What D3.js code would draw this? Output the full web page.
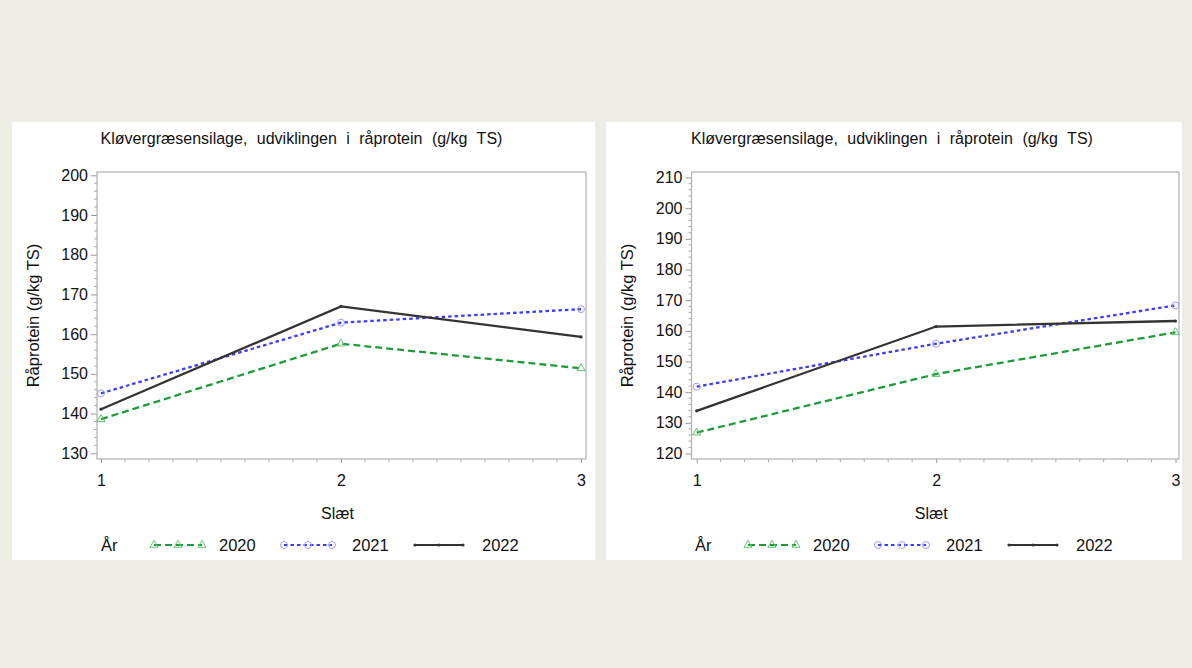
<!DOCTYPE html>
<html>
<head>
<meta charset="utf-8">
<script src="https://cdn.jsdelivr.net/npm/d3@7"></script>
<style>
  html, body { margin: 0; padding: 0; background: #ecebe4; }
  svg { display: block; }
  text { font-family: "Liberation Sans", Arial, sans-serif; fill: #111; }
</style>
</head>
<body>
<svg id="chart" width="1192" height="668"></svg>
<script>
// ---- Data ----
const slaet = [1, 2, 3];
const years = ["2020", "2021", "2022"];
const titleText = "Kløvergræsensilage, udviklingen i råprotein (g/kg TS)";
const yLabel = "Råprotein (g/kg TS)";
const xLabel = "Slæt";
const legendTitle = "År";

// Left panel
const left2020 = [138.6, 157.6, 151.4];
const left2021 = [145.1, 162.9, 166.3];
const left2022 = [141.1, 167.0, 159.3];
const leftYTicks = [130, 140, 150, 160, 170, 180, 190, 200];

// Right panel
const right2020 = [126.8, 145.9, 159.5];
const right2021 = [141.8, 155.8, 168.3];
const right2022 = [133.9, 161.4, 163.2];
const rightYTicks = [120, 130, 140, 150, 160, 170, 180, 190, 200, 210];

const xTicks = [1, 2, 3];

// ---- Styles ----
const styles = {
  "2020": { color: "#1f9a3a", marker: "#5fc46f", dash: "7,4", symbol: "triangle" },
  "2021": { color: "#3c3cff", marker: "#9c9cff", dash: "3.5,3", symbol: "circle" },
  "2022": { color: "#333333", marker: "#333333", dash: null, symbol: "dot" }
};

const svg = d3.select("#chart");

const panels = [
  { x0: 12, x1: 595, series: [left2020, left2021, left2022], yTicks: leftYTicks,
    frame: { l: 97, r: 586, t: 172, b: 459 }, xRange: [101, 581],
    yDomainPx: { hi: 200, hiY: 175.3, lo: 130, loY: 453.3 } },
  { x0: 606, x1: 1182, series: [right2020, right2021, right2022], yTicks: rightYTicks,
    frame: { l: 691.5, r: 1179, t: 172, b: 459 }, xRange: [696.7, 1175.5],
    yDomainPx: { hi: 210, hiY: 177.5, lo: 120, loY: 453.5 } }
];

function drawMarker(g, sym, cx, cy, st) {
  if (sym === "triangle") {
    g.append("path")
      .attr("d", d3.symbol().type(d3.symbolTriangle).size(28)())
      .attr("transform", `translate(${cx},${cy})`)
      .attr("fill", "none").attr("stroke", st.marker).attr("stroke-width", 1);
  } else if (sym === "circle") {
    g.append("circle").attr("cx", cx).attr("cy", cy).attr("r", 3.5)
      .attr("fill", "none").attr("stroke", st.marker).attr("stroke-width", 1);
  } else {
    g.append("circle").attr("cx", cx).attr("cy", cy).attr("r", 1.6)
      .attr("fill", st.marker);
  }
}

panels.forEach(p => {
  const g = svg.append("g");
  // white panel
  g.append("rect").attr("x", p.x0).attr("y", 122).attr("width", p.x1 - p.x0).attr("height", 438)
    .attr("fill", "#ffffff");

  const f = p.frame;
  const x = d3.scaleLinear().domain([1, 3]).range(p.xRange);
  const yd = p.yDomainPx;
  const y = d3.scaleLinear().domain([yd.lo, yd.hi]).range([yd.loY, yd.hiY]);

  // title
  g.append("text").attr("x", (p.x0 + p.x1) / 2 - 2).attr("y", 144)
    .attr("text-anchor", "middle").attr("font-size", 16).attr("word-spacing", 5)
    .text(titleText);

  // Y axis (major)
  const yAxis = d3.axisLeft(y).tickValues(p.yTicks).tickSize(6).tickPadding(3).tickFormat(d3.format("d"));
  const yg = g.append("g").attr("transform", `translate(${f.l},0)`).call(yAxis);
  yg.select(".domain").remove();
  yg.selectAll(".tick line").attr("stroke", "#999");
  yg.selectAll(".tick text").attr("font-size", 16).attr("font-family", "Liberation Sans, Arial, sans-serif").attr("fill", "#111");

  // Y minor ticks
  const yMin = d3.range(p.yTicks[0] - 4, p.yTicks[p.yTicks.length - 1] + 2.01, 2)
    .filter(v => y(v) >= f.t && y(v) <= f.b && !p.yTicks.includes(v));
  g.append("g").selectAll("line").data(yMin).join("line")
    .attr("x1", f.l - 3).attr("x2", f.l).attr("y1", d => y(d)).attr("y2", d => y(d))
    .attr("stroke", "#aaa").attr("stroke-width", 1);

  // X axis
  const xAxis = d3.axisBottom(x).tickValues(xTicks).tickSize(4).tickPadding(12).tickFormat(d3.format("d"));
  const xg = g.append("g").attr("transform", `translate(0,${f.b})`).call(xAxis);
  xg.select(".domain").remove();
  xg.selectAll(".tick line").attr("stroke", "#999");
  xg.selectAll(".tick text").attr("font-size", 16).attr("font-family", "Liberation Sans, Arial, sans-serif").attr("fill", "#111");

  const xMin = d3.range(1.1, 2.95, 0.1).filter(v => Math.abs(v - 2) > 0.01);
  g.append("g").selectAll("line").data(xMin).join("line")
    .attr("x1", d => x(d)).attr("x2", d => x(d)).attr("y1", f.b).attr("y2", f.b + 3)
    .attr("stroke", "#aaa").attr("stroke-width", 1);

  // frame
  g.append("rect").attr("x", f.l).attr("y", f.t).attr("width", f.r - f.l).attr("height", f.b - f.t)
    .attr("fill", "none").attr("stroke", "#b0b0b0").attr("stroke-width", 1.2);

  // axis labels
  g.append("text").attr("x", (f.l + f.r) / 2 - 4).attr("y", 519)
    .attr("text-anchor", "middle").attr("font-size", 16).text(xLabel);
  g.append("text")
    .attr("transform", `translate(${p.x0 + 27},${(f.t + f.b) / 2}) rotate(-90)`)
    .attr("text-anchor", "middle").attr("font-size", 16.5).text(yLabel);

  // lines
  const line = d3.line().x((d, i) => x(slaet[i])).y(d => y(d));
  p.series.forEach((vals, si) => {
    const st = styles[years[si]];
    g.append("path").datum(vals).attr("d", line)
      .attr("fill", "none").attr("stroke", st.color).attr("stroke-width", 2.3)
      .attr("stroke-dasharray", st.dash);
    vals.forEach((v, i) => drawMarker(g, st.symbol, x(slaet[i]), y(v), st));
  });

  // legend
  const lx = p.x0;
  const ly = 545;
  g.append("text").attr("x", lx + 89).attr("y", ly + 6).attr("font-size", 16.5).text(legendTitle);
  const swatchStarts = [142, 272, 403];
  const textStarts = [207, 340, 470];
  years.forEach((yr, i) => {
    const st = styles[yr];
    const sx = lx + swatchStarts[i];
    g.append("line").attr("x1", sx).attr("x2", sx + 48).attr("y1", ly).attr("y2", ly)
      .attr("stroke", st.color).attr("stroke-width", 2).attr("stroke-dasharray", st.dash);
    [0, 24, 48].forEach(o => drawMarker(g, st.symbol, sx + o, ly, st));
    g.append("text").attr("x", lx + textStarts[i]).attr("y", ly + 6).attr("font-size", 16.5).text(yr);
  });
});
</script>
</body>
</html>
